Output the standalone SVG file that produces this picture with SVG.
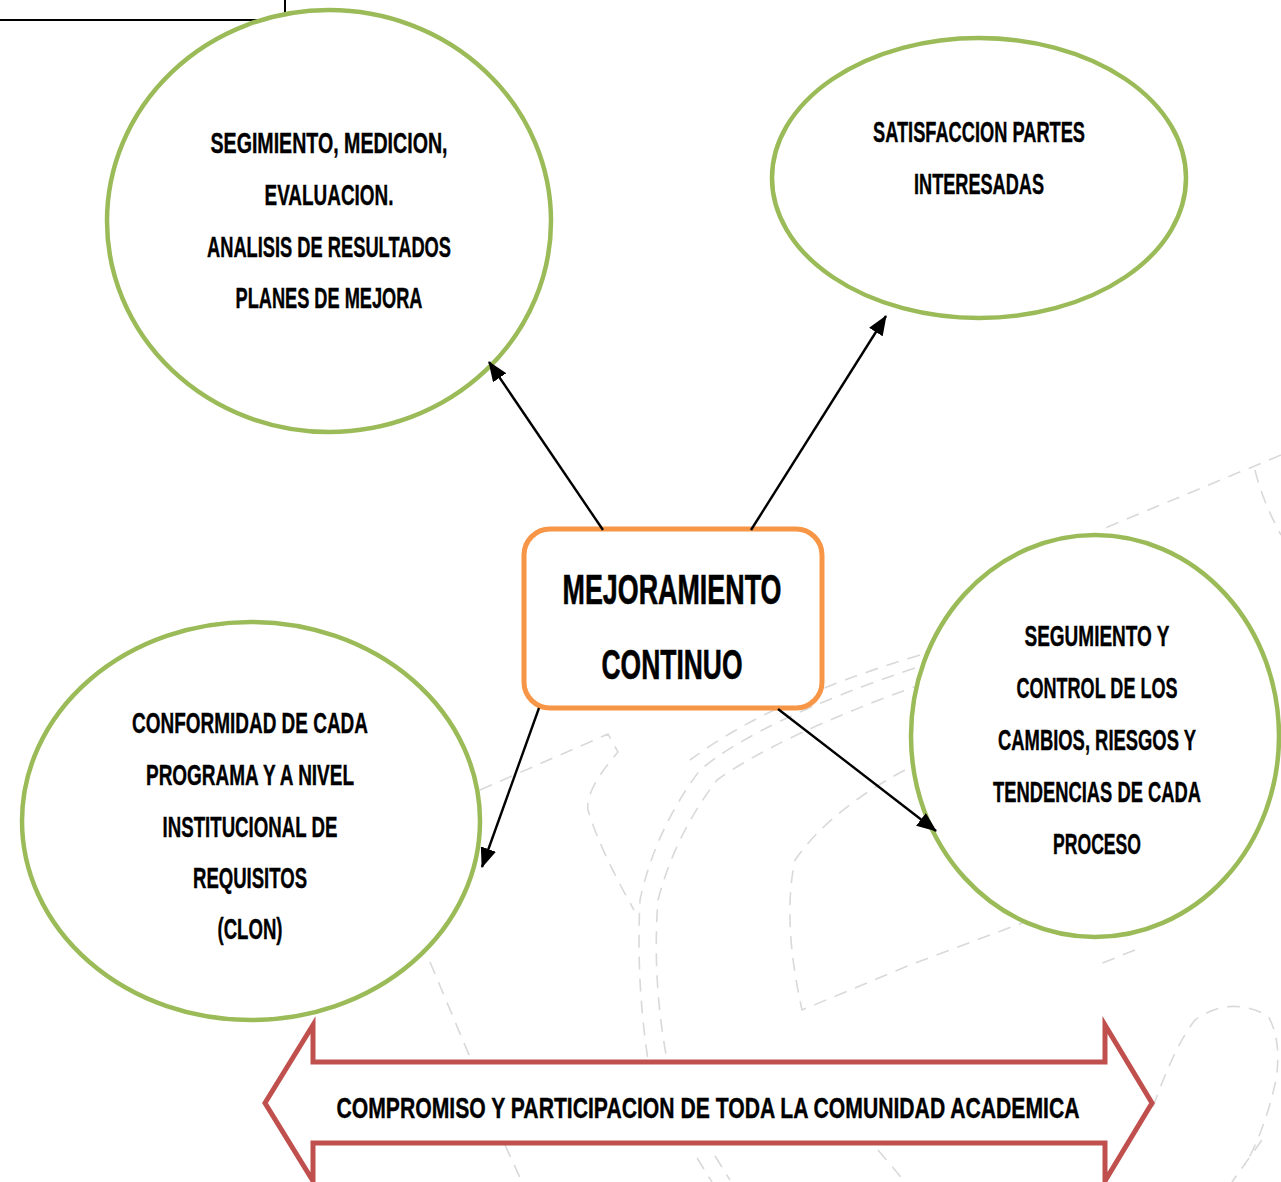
<svg xmlns="http://www.w3.org/2000/svg" width="1281" height="1182" viewBox="0 0 1281 1182">
  <defs>
    <style>
      .bg { fill: #ffffff; }
      .wm { fill: none; stroke: #d9d9d9; stroke-width: 1.6; stroke-dasharray: 13 9; }
      .node { fill: #ffffff; stroke: #9bbb59; stroke-width: 4.5; }
      .center { fill: #ffffff; stroke: #f79646; stroke-width: 5; }
      .band { fill: #ffffff; stroke: #c0504d; stroke-width: 5; stroke-linejoin: miter; }
      .edge { fill: none; stroke: #000000; stroke-width: 2.4; }
      .frame { fill: none; stroke: #000000; stroke-width: 2; }
      .t { font-family: "Liberation Sans Narrow", "Liberation Sans", Arial, sans-serif; font-weight: bold; font-size: 30px; fill: #000000; stroke: #000000; stroke-width: 0.4; text-anchor: middle; }
      .tc { font-size: 42px; stroke-width: 0.6; }
    </style>
    <marker id="ah" markerUnits="userSpaceOnUse" markerWidth="20" markerHeight="16" refX="19" refY="8" orient="auto">
      <path d="M0,0 L20,8 L0,16 z" fill="#000000"/>
    </marker>
  </defs>

  <rect class="bg" x="0" y="0" width="1281" height="1182"/>

  <!-- faint watermark -->
  <g id="watermark">
    <path class="wm" d="M1281,455 L1105,528"/>
    <path class="wm" d="M1255,470 Q1262,500 1281,535"/>
    <path class="wm" d="M480,790 L608,734 L618,752 Q585,790 588,810 Q600,850 634,910"/>
    <path class="wm" d="M915,668 Q760,720 700,770 Q655,830 640,900 Q636,980 648,1060"/>
    <path class="wm" d="M925,683 Q780,735 717,780 Q675,835 658,900 Q652,980 667,1060"/>
    <path class="wm" d="M920,655 Q770,700 690,760"/>
    <path class="wm" d="M905,770 Q830,810 795,860 Q782,920 802,1010 L910,965 L1110,890"/>
    <path class="wm" d="M430,962 L472,1062"/>
    <path class="wm" d="M505,1145 L522,1182"/>
    <path class="wm" d="M697,1158 L712,1182 M715,1156 L730,1180"/>
    <path class="wm" d="M878,1150 L905,1182"/>
    <path class="wm" d="M1135,950 L1100,964"/>
    <path class="wm" d="M1153,1107 Q1175,1045 1195,1020 Q1230,995 1268,1016 Q1282,1040 1276,1080 Q1265,1130 1245,1165"/>
    <path class="wm" d="M1262,1140 L1232,1182"/>
  </g>

  <!-- partial frame at top-left -->
  <path class="frame" d="M0,20 L285,20 L285,0"/>

  <g id="node-seguimiento">
    <ellipse class="node" cx="329" cy="221" rx="222" ry="211"/>
    <text class="t" x="329" y="153" textLength="237" lengthAdjust="spacingAndGlyphs">SEGIMIENTO, MEDICION,</text>
    <text class="t" x="329" y="205" textLength="129" lengthAdjust="spacingAndGlyphs">EVALUACION.</text>
    <text class="t" x="329" y="257" textLength="244" lengthAdjust="spacingAndGlyphs">ANALISIS DE RESULTADOS</text>
    <text class="t" x="329" y="308" textLength="187" lengthAdjust="spacingAndGlyphs">PLANES DE MEJORA</text>
  </g>

  <g id="node-satisfaccion">
    <ellipse class="node" cx="979" cy="178" rx="207" ry="140"/>
    <text class="t" x="979" y="142" textLength="212" lengthAdjust="spacingAndGlyphs">SATISFACCION PARTES</text>
    <text class="t" x="979" y="194" textLength="130" lengthAdjust="spacingAndGlyphs">INTERESADAS</text>
  </g>

  <g id="node-control">
    <ellipse class="node" cx="1095" cy="736" rx="184" ry="201"/>
    <text class="t" x="1097" y="646" textLength="145" lengthAdjust="spacingAndGlyphs">SEGUMIENTO Y</text>
    <text class="t" x="1097" y="698" textLength="161" lengthAdjust="spacingAndGlyphs">CONTROL DE LOS</text>
    <text class="t" x="1097" y="750" textLength="198" lengthAdjust="spacingAndGlyphs">CAMBIOS, RIESGOS Y</text>
    <text class="t" x="1097" y="802" textLength="208" lengthAdjust="spacingAndGlyphs">TENDENCIAS DE CADA</text>
    <text class="t" x="1097" y="854" textLength="88" lengthAdjust="spacingAndGlyphs">PROCESO</text>
  </g>

  <g id="node-conformidad">
    <ellipse class="node" cx="251" cy="821" rx="229" ry="199"/>
    <text class="t" x="250" y="733" textLength="236" lengthAdjust="spacingAndGlyphs">CONFORMIDAD DE CADA</text>
    <text class="t" x="250" y="785" textLength="208" lengthAdjust="spacingAndGlyphs">PROGRAMA Y A NIVEL</text>
    <text class="t" x="250" y="837" textLength="175" lengthAdjust="spacingAndGlyphs">INSTITUCIONAL DE</text>
    <text class="t" x="250" y="888" textLength="114" lengthAdjust="spacingAndGlyphs">REQUISITOS</text>
    <text class="t" x="250" y="939" textLength="65" lengthAdjust="spacingAndGlyphs">(CLON)</text>
  </g>

  <g id="node-mejoramiento">
    <rect class="center" x="524" y="529" width="298" height="179" rx="26" ry="26"/>
    <text class="t tc" x="672" y="604" textLength="219" lengthAdjust="spacingAndGlyphs">MEJORAMIENTO</text>
    <text class="t tc" x="672" y="679" textLength="141" lengthAdjust="spacingAndGlyphs">CONTINUO</text>
  </g>

  <g id="node-compromiso">
    <path class="band" d="M265,1103 L313,1025 L313,1062 L1105,1062 L1105,1025 L1152,1103 L1105,1181 L1105,1143 L313,1143 L313,1181 Z"/>
    <text class="t" x="708" y="1118" textLength="743" lengthAdjust="spacingAndGlyphs">COMPROMISO Y PARTICIPACION DE TODA LA COMUNIDAD ACADEMICA</text>
  </g>

  <g id="connectors">
    <line class="edge" x1="603" y1="530" x2="489" y2="362" marker-end="url(#ah)"/>
    <line class="edge" x1="751" y1="530" x2="886" y2="316" marker-end="url(#ah)"/>
    <line class="edge" x1="539" y1="708" x2="482" y2="867" marker-end="url(#ah)"/>
    <line class="edge" x1="778" y1="709" x2="936" y2="831" marker-end="url(#ah)"/>
  </g>
</svg>
